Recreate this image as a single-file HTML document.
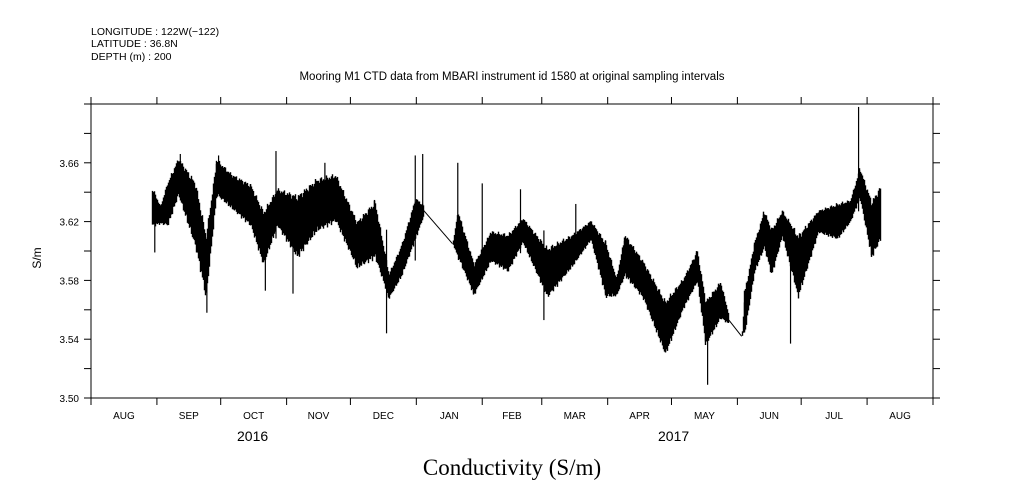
<!DOCTYPE html>
<html><head><meta charset="utf-8"><style>
html,body{margin:0;padding:0;background:#fff;width:1009px;height:504px;overflow:hidden}
svg text{font-family:"Liberation Sans",sans-serif;fill:#000}
</style></head><body>
<svg id="chart" width="1009" height="504" xmlns="http://www.w3.org/2000/svg">
<text x="91" y="35" font-size="10.5">LONGITUDE : 122W(−122)</text>
<text x="91" y="47" font-size="10.5">LATITUDE : 36.8N</text>
<text x="91" y="60" font-size="10.5">DEPTH (m) : 200</text>
<text x="512" y="80" font-size="11.5" text-anchor="middle">Mooring M1 CTD data from MBARI instrument id 1580 at original sampling intervals</text>
<text x="0" y="0" font-size="12" text-anchor="middle" transform="translate(41,258) rotate(-90)">S/m</text>
<text x="512" y="475" font-size="23" text-anchor="middle" style="font-family:'Liberation Serif',serif">Conductivity (S/m)</text>
<g id="axes"></g><g id="data"></g>
</svg>
<script>
const monthLabels=["AUG","SEP","OCT","NOV","DEC","JAN","FEB","MAR","APR","MAY","JUN","JUL","AUG"];
const monthStarts=[0,31,61,92,122,153,184,212,243,273,304,334,365,396];
const yearLabels=["2016","2017"];
const yearDays=[76,274];
const yTicks=[3.50,3.52,3.54,3.56,3.58,3.60,3.62,3.64,3.66,3.68,3.70];
const yLabels=["3.50","3.54","3.58","3.62","3.66"];
const days=[29,32.5,36,41,49,54,59,66,75,81,87.5,97,106,115,125,133.5,140,146,152.5,156.5,170,172.5,180,188,196,203,214.5,226.5,235,242,247,251,259.5,270,278.5,285,289,296,300,306,307.5,312,316.5,320,325,332.5,342,351,357,361.5,367,371.5];
const hiVals=[3.643,3.631,3.648,3.664,3.648,3.612,3.663,3.653,3.646,3.628,3.643,3.639,3.650,3.653,3.621,3.635,3.585,3.605,3.637,3.631,3.605,3.628,3.592,3.614,3.612,3.623,3.603,3.612,3.621,3.607,3.582,3.612,3.594,3.567,3.582,3.601,3.567,3.580,3.556,3.542,3.575,3.607,3.628,3.616,3.628,3.612,3.628,3.633,3.635,3.657,3.635,3.646];
const loVals=[3.616,3.618,3.616,3.637,3.601,3.567,3.637,3.628,3.616,3.589,3.616,3.594,3.612,3.619,3.587,3.594,3.567,3.582,3.607,3.624,3.605,3.594,3.569,3.592,3.585,3.605,3.567,3.589,3.607,3.567,3.569,3.582,3.567,3.528,3.560,3.578,3.535,3.553,3.550,3.542,3.544,3.585,3.601,3.582,3.609,3.567,3.612,3.607,3.619,3.635,3.594,3.607];
const gapStartDays=[156.5,300];
const spikeDays=[30,54.5,82,95,139,152.5,156,172.5,184,202,213,290,329,361,87,42,60,110,228];
const spikeVals=[3.599,3.558,3.573,3.571,3.544,3.665,3.666,3.660,3.646,3.642,3.553,3.509,3.537,3.698,3.668,3.666,3.665,3.660,3.632];
const X0=91,X1=933,Y0=398,Y1=104,D1=396,V0=3.50,V1=3.70;
const xs=d=>X0+(X1-X0)*d/D1, ys=v=>Y0-(Y0-Y1)*(v-V0)/(V1-V0);
const NS="http://www.w3.org/2000/svg";
function mk(p,t,a){const e=document.createElementNS(NS,t);for(const k in a)e.setAttribute(k,a[k]);p.appendChild(e);return e;}
const ax=document.getElementById('axes'),dg=document.getElementById('data');
const frame=mk(ax,'rect',{x:X0,y:Y1,width:X1-X0,height:Y0-Y1,fill:'none',stroke:'#000','stroke-width':1});


monthStarts.forEach(d=>{const x=xs(d);
 const t1=mk(ax,'line',{x1:x,x2:x,y1:Y0,y2:Y0+7,stroke:'#000'});
 
 
 const t2=mk(ax,'line',{x1:x,x2:x,y1:Y1,y2:Y1-7,stroke:'#000'});
 
 });
monthLabels.forEach((m,i)=>{const t=mk(ax,'text',{x:xs((monthStarts[i]+monthStarts[i+1])/2),y:419,'font-size':10,'text-anchor':'middle'});t.textContent=m;
 
 });
yearLabels.forEach((y,i)=>{const t=mk(ax,'text',{x:xs(yearDays[i]),y:441,'font-size':14,'text-anchor':'middle'});t.textContent=y;
 
 });
yTicks.forEach(v=>{const y=ys(v);
 const a=mk(ax,'line',{x1:X0-7,x2:X0,y1:y,y2:y,stroke:'#000'});
 
 
 const b=mk(ax,'line',{x1:X1,x2:X1+7,y1:y,y2:y,stroke:'#000'});
 
 });
yLabels.forEach(l=>{const t=mk(ax,'text',{x:X0-12,y:ys(+l)+4,'font-size':10,'text-anchor':'end'});t.textContent=l;
 
 });
const tex=x=>0.5+0.5*Math.sin(x*1.7)*Math.cos(x*0.53);
for(let i=0;i<days.length-1;i++){
 const xa=xs(days[i]),xb=xs(days[i+1]);
 if(gapStartDays.includes(days[i])){
  const g=mk(dg,'line',{x1:xa,y1:ys((hiVals[i]+loVals[i])/2),x2:xb,y2:ys((hiVals[i+1]+loVals[i+1])/2),stroke:'#000','stroke-width':1});
  
  
  continue;}
 for(let x=Math.floor(xa);x<=xb;x+=1){const f=Math.max(0,Math.min(1,(x-xa)/(xb-xa)));
  const h=hiVals[i]+(hiVals[i+1]-hiVals[i])*f,l=loVals[i]+(loVals[i+1]-loVals[i])*f;
  const r=h-l,t1=tex(x),t2=tex(x*1.31+5);
  const ln=mk(dg,'line',{x1:x+0.5,x2:x+0.5,y1:ys(h-r*0.12*t1),y2:ys(l+r*0.12*t2),stroke:'#000','stroke-width':1.4});
  
  }}
spikeDays.forEach((d,i)=>{
 let j=0;while(j<days.length-1&&days[j+1]<d)j++;
 const mid=(hiVals[j]+loVals[j])/2;
 const ln=mk(dg,'line',{x1:xs(d),x2:xs(d),y1:ys(mid),y2:ys(spikeVals[i]),stroke:'#000','stroke-width':1.2});
 
 });
</script>
</body></html>
